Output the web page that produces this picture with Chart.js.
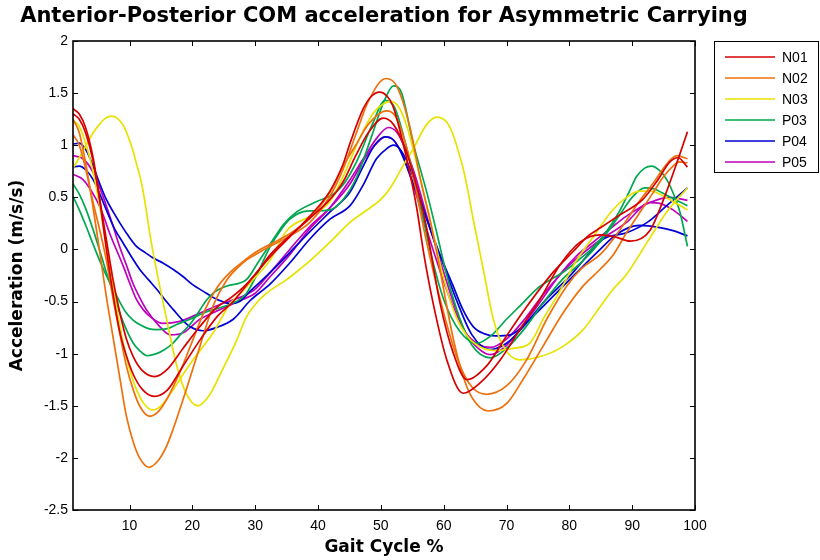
<!DOCTYPE html>
<html><head><meta charset="utf-8">
<script src="https://cdn.jsdelivr.net/npm/chart.js@4.4.1/dist/chart.umd.min.js"></script>
<style>html,body{margin:0;padding:0;background:#fff}</style>
</head><body>
<canvas id="c" width="820" height="560" style="width:820px;height:560px;display:block"></canvas>
<script>
const chartTitle = 'Anterior-Posterior COM acceleration for Asymmetric Carrying';
const xTicks = [10,20,30,40,50,60,70,80,90,100];
const xTickLabels = ['10','20','30','40','50','60','70','80','90','100'];
const yTicks = [-2.5,-2,-1.5,-1,-0.5,0,0.5,1,1.5,2];
const yTickLabels = ['-2.5','-2','-1.5','-1','-0.5','0','0.5','1','1.5','2'];
const subjects = ['N01','N02','N03','P03','P04','P05'];
const colors = ['rgb(215,0,0)','rgb(238,112,12)','rgb(232,226,0)','rgb(0,168,80)','rgb(0,0,215)','rgb(190,0,190)'];

const N01_a = [[1,1.35],[2,1.30],[3,1.17],[4.2,0.88],[5.2,0.5],[6.2,0.05],[7.3,-0.4],[8.4,-0.78],[9.5,-1.02],[10.6,-1.2],[12,-1.34],[13.9,-1.41],[16,-1.35],[18.5,-1.12],[21.2,-0.87],[24,-0.64],[26.5,-0.5],[29.2,-0.3],[32.4,-0.07],[35.5,0.12],[38.7,0.32],[41.9,0.56],[44,0.82],[45.1,1.02],[47.2,1.35],[48.5,1.47],[49.8,1.51],[51,1.47],[51.9,1.38],[54,0.9],[55.7,0.4],[56.8,-0.03],[58.3,-0.51],[60.5,-1.06],[63.1,-1.38],[65.8,-1.28],[69,-1.06],[72.1,-0.77],[75.3,-0.48],[78.5,-0.15],[81.7,0.07],[84.9,0.14],[87.3,0.12],[89.7,0.08],[92.8,0.18],[95,0.48],[97.1,0.83],[98.8,1.13]];
const N01_b = [[1,1.30],[2,1.25],[3,1.12],[4.2,0.85],[5.2,0.5],[6.3,0.1],[7.4,-0.3],[8.5,-0.62],[9.5,-0.86],[10.6,-1.03],[12,-1.16],[14,-1.22],[16,-1.15],[18.5,-0.95],[21.2,-0.74],[23.8,-0.56],[26.2,-0.46],[28.5,-0.34],[30.5,-0.2],[32.4,-0.05],[35.5,0.13],[38.7,0.3],[41.9,0.48],[44,0.65],[46,0.9],[48,1.12],[50.4,1.26],[52,1.2],[54,0.95],[55.5,0.65],[57,0.29],[59.4,-0.51],[61.5,-0.99],[63.7,-1.25],[66.8,-1.12],[70,-0.83],[73.2,-0.55],[77.4,-0.22],[80.6,-0.02],[83,0.13],[85,0.21],[88,0.33],[91.7,0.48],[94,0.66],[96,0.84],[97.3,0.88],[98.8,0.79]];

const N02_a = [[1,1.25],[2,1.12],[3.1,0.8],[4.2,0.4],[5.2,0.0],[6.3,-0.45],[7.4,-0.85],[8.5,-1.25],[9.5,-1.6],[10.6,-1.85],[11.6,-2.0],[13.1,-2.09],[14.5,-2.03],[15.8,-1.9],[16.9,-1.73],[19,-1.35],[21.2,-0.93],[23.3,-0.54],[25.4,-0.3],[28,-0.13],[30,-0.05],[32.4,0.03],[35.5,0.13],[38.7,0.26],[41.9,0.51],[44,0.77],[46,1.1],[48,1.42],[50.8,1.64],[52.5,1.57],[54.6,1.18],[56.2,0.70],[57.8,0.29],[58.9,-0.03],[60.2,-0.45],[61.5,-0.85],[63,-1.2],[64.5,-1.42],[67.1,-1.55],[70,-1.48],[72.6,-1.25],[75.8,-0.93],[79,-0.61],[82.2,-0.35],[84.9,-0.19],[87,-0.05],[89.1,0.16],[91.5,0.38],[93.4,0.55],[95,0.7],[96.5,0.80],[97.5,0.84],[98.8,0.83]];
const N02_b = [[1,1.10],[2,1.0],[3.1,0.75],[4.2,0.45],[5.2,0.2],[6.3,-0.1],[7.4,-0.48],[8.5,-0.82],[9.5,-1.12],[10.6,-1.35],[11.6,-1.5],[13.1,-1.6],[14.5,-1.56],[16,-1.43],[18,-1.18],[20,-0.88],[22,-0.58],[24,-0.36],[26,-0.22],[28,-0.12],[30,-0.03],[32.4,0.05],[35.5,0.15],[38.7,0.3],[41.9,0.55],[44,0.8],[46,1.0],[48,1.2],[50.9,1.33],[52.3,1.28],[54,1.0],[55.5,0.6],[57,0.15],[58.5,-0.25],[60.5,-0.72],[62.5,-1.1],[64.5,-1.32],[66.8,-1.39],[70,-1.31],[73.2,-1.06],[76.4,-0.67],[79.6,-0.35],[82,-0.18],[84.9,-0.05],[87,0.1],[89.1,0.28],[91,0.45],[93.4,0.64],[95.5,0.82],[97.1,0.9],[98.8,0.87]];

const N03_a = [[1,1.24],[2,1.18],[3,1.02],[4,0.8],[5,0.5],[6,0.15],[7,-0.22],[8,-0.58],[9,-0.9],[10,-1.15],[11,-1.33],[12.3,-1.48],[13.7,-1.54],[15,-1.5],[16.9,-1.35],[18.5,-1.2],[20.1,-1.06],[23.3,-0.8],[26,-0.52],[28,-0.4],[29.2,-0.32],[32.4,-0.10],[35,0.18],[38.7,0.32],[41.9,0.46],[44,0.7],[46.5,1.05],[48.8,1.31],[50.5,1.40],[51.7,1.42],[53,1.35],[54.1,1.19],[55.2,0.95],[56.2,0.70],[57.3,0.42],[58.3,0.16],[60,-0.28],[62,-0.65],[64,-0.85],[66,-0.94],[68.5,-0.97],[71,-0.95],[73.7,-0.9],[76,-0.65],[78.5,-0.40],[81,-0.12],[83.8,0.12],[86.5,0.35],[89.1,0.50],[91.2,0.56],[93,0.56],[94.4,0.53],[96.5,0.46],[98.8,0.38]];
const N03_b = [[1,0.78],[2,0.88],[3.1,1.0],[4.2,1.12],[5.2,1.2],[6.2,1.26],[7.1,1.28],[8,1.26],[9,1.19],[9.8,1.08],[10.5,0.96],[11.2,0.8],[11.9,0.64],[12.6,0.4],[13.2,0.16],[14.5,-0.26],[15.9,-0.67],[17.4,-1.09],[19,-1.38],[20.9,-1.50],[22.7,-1.40],[24.9,-1.14],[27,-0.88],[28.5,-0.66],[29.7,-0.55],[31.8,-0.42],[35,-0.29],[37.1,-0.19],[38.7,-0.11],[41.9,0.07],[45.1,0.26],[48.3,0.40],[50,0.48],[51.5,0.59],[53.5,0.80],[55.1,0.96],[57.3,1.20],[58.9,1.27],[60.5,1.22],[61.5,1.1],[62.1,0.99],[63,0.8],[63.7,0.61],[64.7,0.29],[66.3,-0.19],[67.9,-0.67],[69.5,-0.93],[72.1,-1.06],[75.3,-1.03],[79,-0.93],[82.2,-0.77],[84.9,-0.55],[87,-0.38],[89.1,-0.24],[92.4,0.07],[95.5,0.36],[98.8,0.59]];

const P03_a = [[1,0.63],[2,0.53],[3.1,0.38],[4.2,0.19],[5.2,0.0],[6.3,-0.22],[7.4,-0.42],[8.5,-0.62],[9.5,-0.77],[10.6,-0.9],[11.6,-0.97],[12.8,-1.02],[14.3,-1.0],[15.6,-0.96],[16.9,-0.9],[18.2,-0.81],[19.6,-0.72],[21,-0.6],[22.2,-0.49],[23.5,-0.41],[25.5,-0.35],[28.6,-0.29],[30.5,-0.12],[32.8,0.09],[34.5,0.24],[36.6,0.36],[39.8,0.46],[42.4,0.53],[44,0.62],[46.2,0.85],[48.5,1.18],[50.7,1.43],[52.2,1.36],[54,1.0],[56,0.5],[58,-0.05],[60,-0.48],[62.5,-0.78],[65.3,-0.90],[67.5,-0.83],[70,-0.67],[72.5,-0.52],[74.8,-0.38],[77,-0.29],[79,-0.22],[81.5,-0.1],[83.8,0.02],[86,0.18],[88.1,0.38],[89.5,0.55],[90.7,0.70],[92,0.78],[93.1,0.80],[94.3,0.76],[95.5,0.67],[96.6,0.53],[97.6,0.36],[98.8,0.03]];
const P03_b = [[1,0.51],[2,0.38],[3.1,0.22],[4.2,0.05],[5.2,-0.10],[6.3,-0.25],[7.4,-0.38],[8.5,-0.51],[9.5,-0.61],[10.6,-0.68],[11.6,-0.72],[13,-0.76],[14.3,-0.77],[16,-0.76],[17.5,-0.72],[19.6,-0.67],[22.2,-0.6],[24.9,-0.55],[27,-0.5],[28.5,-0.43],[30.2,-0.25],[32.4,0.03],[34,0.18],[35.5,0.29],[37.5,0.36],[39.2,0.37],[41.9,0.38],[44,0.48],[46.2,0.70],[48.5,1.08],[50.5,1.42],[52,1.57],[53.3,1.5],[55.1,1.03],[57.3,0.55],[58.9,0.16],[60.5,-0.25],[62.5,-0.65],[64.5,-0.92],[67.4,-1.04],[70,-0.95],[73,-0.75],[76,-0.5],[79,-0.28],[82,-0.12],[85,0.08],[88,0.33],[90,0.5],[92,0.59],[93.5,0.58],[95.5,0.52],[98.8,0.42]];

const P04_a = [[1,1.01],[2,1.02],[3.1,0.95],[4.2,0.80],[5.2,0.64],[6.3,0.48],[7.4,0.36],[8.4,0.26],[9.7,0.14],[11.1,0.03],[12.5,-0.03],[13.7,-0.08],[15.3,-0.13],[16.9,-0.19],[18.5,-0.26],[20.1,-0.34],[21.7,-0.40],[23.3,-0.46],[24.8,-0.50],[26,-0.52],[27.5,-0.5],[29.2,-0.40],[32.4,-0.22],[35.5,-0.03],[38.7,0.17],[41.9,0.36],[45.1,0.55],[47.2,0.80],[49,1.0],[50.7,1.08],[52,1.05],[53.3,0.92],[54.6,0.72],[57.3,0.29],[59.4,-0.05],[61.5,-0.35],[63,-0.57],[64.7,-0.74],[66.5,-0.81],[68.2,-0.83],[70.6,-0.82],[73.7,-0.67],[77.4,-0.45],[81.2,-0.22],[84.9,0.0],[87,0.12],[89.1,0.2],[91.2,0.23],[94.4,0.21],[96.5,0.18],[98.8,0.13]];
const P04_b = [[1,0.79],[2,0.80],[3.1,0.76],[4.2,0.67],[5.2,0.54],[6.3,0.38],[7.6,0.2],[9,0.06],[10.3,-0.07],[11.6,-0.19],[13,-0.29],[14.3,-0.38],[15.6,-0.48],[17,-0.58],[18.3,-0.67],[19.6,-0.74],[21.7,-0.78],[23.8,-0.75],[26.5,-0.67],[29.2,-0.49],[32.4,-0.33],[35.5,-0.13],[38.7,0.10],[41.9,0.29],[45.1,0.42],[47.2,0.62],[49.3,0.87],[51,0.97],[52,1.0],[53.2,0.95],[55,0.72],[57,0.35],[58.5,0.08],[60,-0.15],[62,-0.48],[64.5,-0.82],[67.4,-0.96],[70,-0.9],[73,-0.72],[76,-0.5],[80,-0.26],[83,-0.05],[85.4,0.10],[89.1,0.16],[92.4,0.26],[95.5,0.42],[98.8,0.59]];

const P05_a = [[1,0.90],[2.6,0.87],[4.2,0.74],[5.2,0.6],[6.3,0.42],[7.4,0.22],[8.4,0.03],[9.5,-0.15],[10.5,-0.32],[11.6,-0.46],[12.7,-0.58],[14.8,-0.74],[16.5,-0.82],[18.5,-0.80],[21.2,-0.67],[24.3,-0.58],[28,-0.48],[30,-0.42],[32.4,-0.26],[35.5,-0.05],[38.7,0.20],[41.9,0.40],[45.1,0.67],[47.2,0.87],[49.5,1.08],[51.2,1.17],[52.6,1.12],[54,0.95],[55.5,0.7],[57.5,0.28],[59.5,-0.12],[61.5,-0.5],[63.5,-0.8],[65.5,-0.95],[67.4,-1.01],[70,-0.92],[73,-0.7],[76,-0.45],[78.5,-0.24],[81,-0.07],[83.8,0.07],[86.5,0.2],[89.1,0.32],[92.8,0.45],[96,0.50],[98.8,0.47]];
const P05_b = [[1,0.72],[2.6,0.67],[4.7,0.48],[5.8,0.33],[6.8,0.16],[9,-0.16],[10,-0.32],[11.1,-0.48],[12.2,-0.58],[13.2,-0.64],[15.3,-0.71],[18,-0.69],[21.2,-0.61],[24.3,-0.53],[28,-0.45],[30,-0.38],[32.4,-0.22],[35.5,0.0],[38.7,0.22],[41.9,0.40],[45,0.62],[47.5,0.88],[49.5,1.03],[50.7,1.08],[52,1.05],[53.5,0.9],[55.5,0.55],[57.5,0.15],[59.5,-0.22],[61.5,-0.55],[63.5,-0.8],[65.5,-0.91],[67.4,-0.94],[70,-0.86],[73,-0.66],[76,-0.42],[80,-0.15],[84,0.05],[89.1,0.26],[92.8,0.45],[94.5,0.44],[96.5,0.38],[98.8,0.27]];

const trials = [[N01_a,N01_b],[N02_a,N02_b],[N03_a,N03_b],[P03_a,P03_b],[P04_a,P04_b],[P05_a,P05_b]];

const datasets = [];
subjects.forEach((s, i) => {
  trials[i].forEach(arr => {
    datasets.push({
      label: s,
      data: arr.map(p => ({x: p[0], y: p[1]})),
      borderColor: colors[i],
      backgroundColor: colors[i],
      borderWidth: 1.7,
      pointRadius: 0,
      cubicInterpolationMode: 'monotone',
      fill: false
    });
  });
});

const boxPlugin = {
  id: 'matlabBox',
  afterDatasetsDraw(chart) {
    const {ctx, chartArea: a, scales: {x, y}} = chart;
    ctx.save();
    ctx.strokeStyle = '#000';
    ctx.lineWidth = 1;
    ctx.beginPath();
    const tl = 5;
    xTicks.forEach(v => {
      const px = Math.round(x.getPixelForValue(v)) + 0.5;
      ctx.moveTo(px, a.bottom); ctx.lineTo(px, a.bottom - tl);
      ctx.moveTo(px, a.top); ctx.lineTo(px, a.top + tl);
    });
    yTicks.forEach(v => {
      const py = Math.round(y.getPixelForValue(v)) + 0.5;
      ctx.moveTo(a.left, py); ctx.lineTo(a.left + tl, py);
      ctx.moveTo(a.right, py); ctx.lineTo(a.right - tl, py);
    });
    ctx.stroke();
    ctx.lineWidth = 1.6;
    ctx.strokeRect(a.left, a.top, a.right - a.left, a.bottom - a.top);
    ctx.restore();
  }
};

const titlePlugin = {
  id: 'matlabTitle',
  afterDraw(chart) {
    const {ctx, chartArea: a} = chart;
    ctx.save();
    ctx.fillStyle = '#000';
    ctx.font = 'bold 21px "DejaVu Sans", sans-serif';
    ctx.textAlign = 'center';
    ctx.textBaseline = 'middle';
    ctx.fillText(chartTitle, (a.left + a.right) / 2, 17);
    ctx.restore();
  }
};

const legendPlugin = {
  id: 'matlabLegend',
  afterDraw(chart) {
    const ctx = chart.ctx;
    const bx = 714, by = 41.5, bw = 104, bh = 131;
    ctx.save();
    ctx.fillStyle = '#fff';
    ctx.fillRect(bx, by, bw, bh);
    ctx.strokeStyle = '#000';
    ctx.lineWidth = 1;
    ctx.strokeRect(bx + 0.5, by, bw, bh);
    ctx.font = '14px "Liberation Sans", Arial, sans-serif';
    ctx.textBaseline = 'middle';
    ctx.textAlign = 'left';
    subjects.forEach((s, i) => {
      const yy = 57 + i * 21;
      ctx.strokeStyle = colors[i];
      ctx.lineWidth = 1.6;
      ctx.beginPath();
      ctx.moveTo(725, yy); ctx.lineTo(775, yy);
      ctx.stroke();
      ctx.fillStyle = '#000';
      ctx.fillText(s, 782, yy + 1);
    });
    ctx.restore();
  }
};

new Chart(document.getElementById('c'), {
  type: 'line',
  data: { datasets },
  options: {
    responsive: false,
    animation: false,
    devicePixelRatio: 1,
    layout: { padding: { left: 0, right: 125, top: 41, bottom: 0 } },
    plugins: {
      legend: { display: false },
      tooltip: { enabled: false },
      title: { display: false }
    },
    scales: {
      x: {
        type: 'linear', min: 1, max: 100,
        grid: { display: false, drawTicks: false },
        border: { display: false },
        ticks: { color: '#000', padding: 8, autoSkip: false, maxRotation: 0,
                 font: { family: '"Liberation Sans", Arial, sans-serif', size: 14 },
                 callback: v => { const i = xTicks.indexOf(v); return i >= 0 ? xTickLabels[i] : ''; } },
        afterBuildTicks: s => { s.ticks = xTicks.map(v => ({ value: v })); },
        afterFit: s => { s.height = 50; },
        title: { display: true, text: 'Gait Cycle %', color: '#000',
                 font: { family: '"DejaVu Sans", sans-serif', size: 17, weight: 'bold' },
                 padding: { top: 0, bottom: 2 } }
      },
      y: {
        type: 'linear', min: -2.5, max: 2,
        grid: { display: false, drawTicks: false },
        border: { display: false },
        ticks: { color: '#000', padding: 5, autoSkip: false,
                 font: { family: '"Liberation Sans", Arial, sans-serif', size: 14 },
                 callback: v => { const i = yTicks.indexOf(v); return i >= 0 ? yTickLabels[i] : ''; } },
        afterBuildTicks: s => { s.ticks = yTicks.map(v => ({ value: v })); },
        afterFit: s => { s.width = 73; },
        title: { display: true, text: 'Acceleration (m/s/s)', color: '#000',
                 font: { family: '"DejaVu Sans", sans-serif', size: 17, weight: 'bold' },
                 padding: { top: 7, bottom: 0 } }
      }
    }
  },
  plugins: [boxPlugin, titlePlugin, legendPlugin]
});
</script>
</body></html>
